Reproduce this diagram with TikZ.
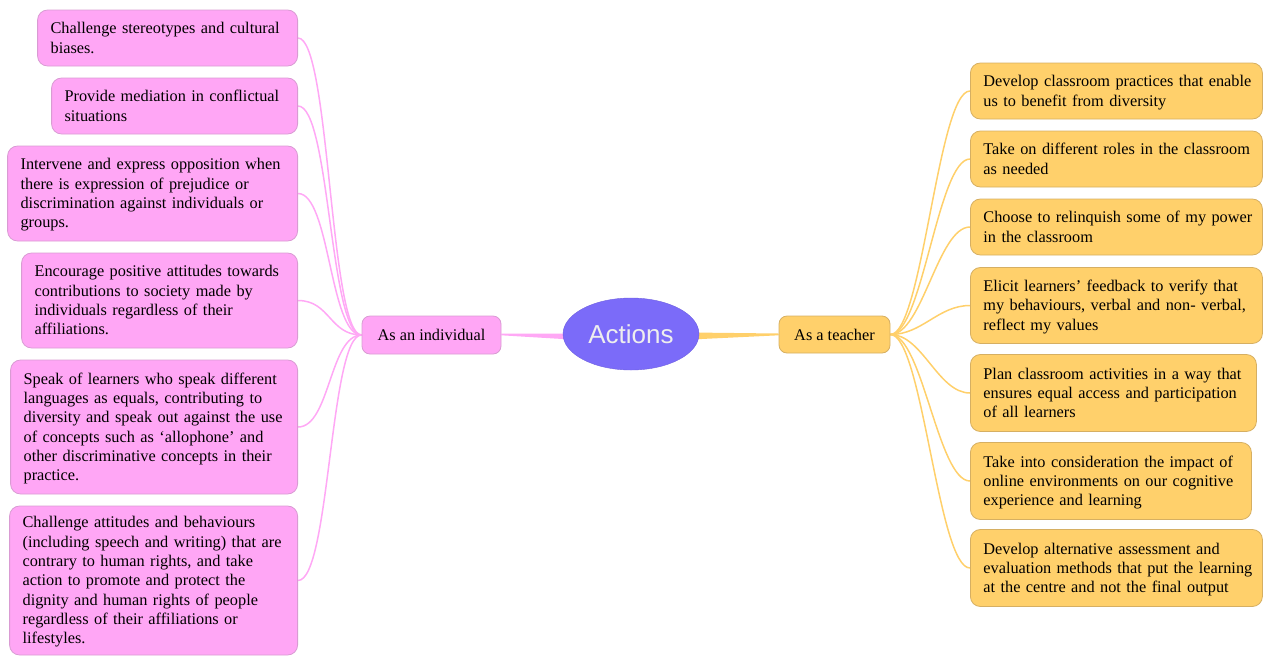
\documentclass[tikz,border=0pt]{standalone}
\usepackage{fontspec}
\setmainfont{Liberation Serif}
\newfontfamily\actfont{Liberation Sans}
\usetikzlibrary{shapes.geometric,backgrounds,calc}
\definecolor{pinkfill}{HTML}{FFA6F5}
\definecolor{pinkdraw}{HTML}{D99BD3}
\definecolor{pinkline}{HTML}{FFA8F5}
\definecolor{orfill}{HTML}{FFD06B}
\definecolor{ordraw}{HTML}{D6AF62}
\definecolor{orline}{HTML}{FFD06B}
\definecolor{actfill}{HTML}{7B6BF9}
\definecolor{acttext}{HTML}{EEEEEE}
\newcommand{\tl}[1]{\raisebox{-1.5pt}[\height][\depth]{\begin{tabular}{@{}l@{}}#1\end{tabular}}}
\begin{document}
\begin{tikzpicture}[x=1pt,y=-1pt,
  leaf/.style={rounded corners=10pt, inner xsep=13pt, inner ysep=0pt, align=left,
    font=\fontsize{16.3}{19.3}\selectfont, line width=0.8pt},
  pleaf/.style={leaf, fill=pinkfill, draw=pinkdraw, anchor=east},
  oleaf/.style={leaf, fill=orfill, draw=ordraw, anchor=west},
  hub/.style={rounded corners=8pt, inner sep=0pt, font=\fontsize{16.3}{19.3}\selectfont, line width=0.8pt},
  pcon/.style={draw=pinkline, line width=1.5pt},
  ocon/.style={draw=orline, line width=1.5pt},
]
\useasboundingbox (0,0) rectangle (1264,657);

% central
\node[ellipse, fill=actfill, draw=actfill!90!black, line width=0.4pt, minimum width=136pt, minimum height=72pt, inner sep=0pt,
  text=acttext, font=\actfont\fontsize{26}{30}\selectfont] (act) at (631,334) {Actions};
\node[hub, fill=pinkfill, draw=pinkdraw, minimum width=139pt, minimum height=38pt] (ind) at (431.5,335) {As an individual};
\node[hub, fill=orfill, draw=ordraw, minimum width=111pt, minimum height=37pt] (tea) at (834.5,334.5) {As a teacher};

% left leaves
\node[pleaf, text width=234pt, minimum height=56pt] (l1) at (298,38)
  {\tl{Challenge stereotypes and cultural\\biases.}};
\node[pleaf, text width=220pt, minimum height=56pt] (l2) at (298,106)
  {\tl{Provide mediation in conflictual\\situations}};
\node[pleaf, text width=264pt, minimum height=95pt] (l3) at (298,193.5)
  {\tl{Intervene and express opposition when\\there is expression of prejudice or\\discrimination against individuals or\\groups.}};
\node[pleaf, text width=250pt, minimum height=95pt] (l4) at (298,300.5)
  {\tl{Encourage positive attitudes towards\\contributions to society made by\\individuals regardless of their\\affiliations.}};
\node[pleaf, text width=261pt, minimum height=134pt] (l5) at (298,427)
  {\tl{Speak of learners who speak different\\languages as equals, contributing to\\diversity and speak out against the use\\of concepts such as ‘allophone’ and\\other discriminative concepts in their\\practice.}};
\node[pleaf, text width=262pt, minimum height=149pt] (l6) at (298,580.5)
  {\tl{Challenge attitudes and behaviours\\(including speech and writing) that are\\contrary to human rights, and take\\action to promote and protect the\\dignity and human rights of people\\regardless of their affiliations or\\lifestyles.}};

% right leaves
\node[oleaf, text width=266pt, minimum height=56pt] (r1) at (970,91)
  {\tl{Develop classroom practices that enable\\us to benefit from diversity}};
\node[oleaf, text width=266pt, minimum height=56pt] (r2) at (970,159)
  {\tl{Take on different roles in the classroom\\as needed}};
\node[oleaf, text width=266pt, minimum height=56pt] (r3) at (970,227)
  {\tl{Choose to relinquish some of my power\\in the classroom}};
\node[oleaf, text width=266pt, minimum height=76pt] (r4) at (970,305.5)
  {\tl{Elicit learners’ feedback to verify that\\my behaviours, verbal and non- verbal,\\reflect my values}};
\node[oleaf, text width=260pt, minimum height=77pt] (r5) at (970,393)
  {\tl{Plan classroom activities in a way that\\ensures equal access and participation\\of all learners}};
\node[oleaf, text width=255pt, minimum height=77pt] (r6) at (970,481)
  {\tl{Take into consideration the impact of\\online environments on our cognitive\\experience and learning}};
\node[oleaf, text width=266pt, minimum height=77pt] (r7) at (970,568)
  {\tl{Develop alternative assessment and\\evaluation methods that put the learning\\at the centre and not the final output}};

\begin{pgfonlayer}{background}
  \foreach \i in {1,...,6}
    \draw[pcon] (l\i.east) .. controls +(32,0) and +(-32,0) .. (ind.west);
  \foreach \i in {1,...,7}
    \draw[ocon] (tea.east) .. controls +(32,0) and +(-32,0) .. (r\i.west);
  \fill[pinkline] ($(ind.east)+(0,-1.5)$) -- ($(act.west)+(8,-0.5)$) -- ($(act.west)+(8,5.5)$) -- ($(ind.east)+(0,0.3)$) -- cycle;
  \fill[orline] ($(act.east)+(-8,-1.5)$) -- ($(tea.west)+(0,-1)$) -- ($(tea.west)+(0,0.8)$) -- ($(act.east)+(-8,5.5)$) -- cycle;
\end{pgfonlayer}
\end{tikzpicture}
\end{document}
